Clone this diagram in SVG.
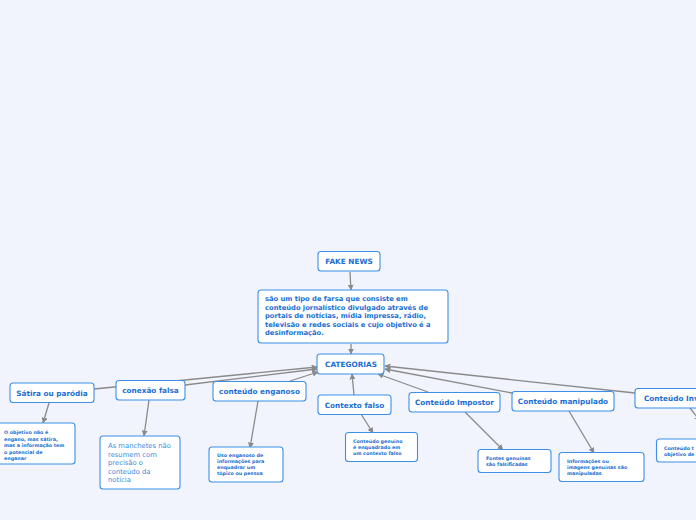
<svg xmlns="http://www.w3.org/2000/svg" width="696" height="520" viewBox="0 0 696 520">
<defs>
<marker id="ah" viewBox="0 0 10 10" refX="9" refY="5" markerWidth="6" markerHeight="6" orient="auto" markerUnits="userSpaceOnUse"><path d="M0,0 L10,5 L0,10 z" fill="#8a8a8a"/></marker>
<style>
.bx{fill:#fff;stroke:#3d8fe8;stroke-width:1.1}
.t{font-family:"DejaVu Sans","Liberation Sans",sans-serif;font-weight:bold;fill:#1a6ed2}
.m{font-size:7.3px;text-anchor:middle}
.s{font-size:4.8px}
.d{font-size:6.75px}
.r{font-family:"DejaVu Sans","Liberation Sans",sans-serif;font-size:6.8px;fill:#3a8ae0}
.c{stroke:#8a8a8a;stroke-width:1.3;fill:none;marker-end:url(#ah)}
</style>
</defs>
<rect width="696" height="520" fill="#f1f4fd"/>
<g id="connectors">
<line class="c" x1="350" y1="272" x2="351" y2="290"/>
<line class="c" x1="351" y1="344" x2="351" y2="354"/>
<line class="c" x1="94" y1="389" x2="317" y2="367"/>
<line class="c" x1="185" y1="385" x2="317" y2="369"/>
<line class="c" x1="290" y1="381" x2="318" y2="372"/>
<line class="c" x1="49" y1="403" x2="43" y2="423"/>
<line class="c" x1="149" y1="400" x2="144" y2="436"/>
<line class="c" x1="258" y1="401" x2="250" y2="448"/>
<line class="c" x1="354" y1="395" x2="352" y2="374"/>
<line class="c" x1="361" y1="414" x2="373" y2="433"/>
<line class="c" x1="428" y1="392" x2="378" y2="374"/>
<line class="c" x1="512" y1="393" x2="385" y2="369"/>
<line class="c" x1="635" y1="393" x2="385" y2="366"/>
<line class="c" x1="465" y1="412" x2="503" y2="450"/>
<line class="c" x1="569" y1="411" x2="594" y2="453"/>
<line class="c" x1="690" y1="408" x2="700" y2="421"/>
</g>
<g id="fake-news"><rect class="bx" x="318" y="251.5" width="62" height="19.5" rx="3"/><text class="t m" x="349" y="264">FAKE NEWS</text></g>
<g id="definicao"><rect class="bx" x="258" y="290" width="190" height="53" rx="3"/>
<text class="t d" x="265" y="301">são um tipo de farsa que consiste em</text>
<text class="t d" x="265" y="309.5">conteúdo jornalístico divulgado através de</text>
<text class="t d" x="265" y="318">portais de notícias, mídia impressa, rádio,</text>
<text class="t d" x="265" y="326.5">televisão e redes sociais e cujo objetivo é a</text>
<text class="t d" x="265" y="335">desinformação.</text></g>
<g id="categorias"><rect class="bx" x="317" y="354" width="67" height="20" rx="3"/><text class="t m" x="351" y="366.5">CATEGORIAS</text></g>
<g id="satira"><rect class="bx" x="10" y="383" width="84" height="19.5" rx="3"/><text class="t m" x="52" y="395.5">Sátira ou paródia</text></g>
<g id="conexao"><rect class="bx" x="116" y="380.5" width="69" height="19.5" rx="3"/><text class="t m" x="150.5" y="393">conexão falsa</text></g>
<g id="enganoso"><rect class="bx" x="213" y="381.5" width="93" height="19.5" rx="3"/><text class="t m" x="259.5" y="394">conteúdo enganoso</text></g>
<g id="contexto"><rect class="bx" x="318" y="395" width="73" height="19.5" rx="3"/><text class="t m" x="354.5" y="407.5">Contexto falso</text></g>
<g id="impostor"><rect class="bx" x="409" y="392.5" width="91" height="19.5" rx="3"/><text class="t m" x="454.5" y="405">Conteúdo Impostor</text></g>
<g id="manipulado"><rect class="bx" x="512" y="391.5" width="102" height="19.5" rx="3"/><text class="t m" x="563" y="404">Conteúdo manipulado</text></g>
<g id="inventado"><rect class="bx" x="635" y="388.5" width="80" height="19.5" rx="3"/><text class="t" style="font-size:7.3px" x="644" y="401">Conteúdo Inv</text></g>
<g id="satira-nota"><rect class="bx" x="-5" y="423" width="80" height="41" rx="3"/>
<text class="t s" x="4" y="434">O objetivo não é</text>
<text class="t s" x="4" y="440.5">engano, mas sátira,</text>
<text class="t s" x="4" y="447">mas a informação tem</text>
<text class="t s" x="4" y="453.5">o potencial de</text>
<text class="t s" x="4" y="460">enganar</text></g>
<g id="conexao-nota"><rect class="bx" x="100" y="436" width="80" height="53" rx="3"/>
<text class="r" x="108" y="448">As manchetes não</text>
<text class="r" x="108" y="456.5">resumem com</text>
<text class="r" x="108" y="465">precisão o</text>
<text class="r" x="108" y="473.5">conteúdo da</text>
<text class="r" x="108" y="482">notícia</text></g>
<g id="enganoso-nota"><rect class="bx" x="209" y="447" width="74" height="35" rx="3"/>
<text class="t s" x="217" y="457">Uso enganoso de</text>
<text class="t s" x="217" y="463">informações para</text>
<text class="t s" x="217" y="469">enquadrar um</text>
<text class="t s" x="217" y="475">tópico ou pessoa</text></g>
<g id="contexto-nota"><rect class="bx" x="345.5" y="432.5" width="72" height="29" rx="3"/>
<text class="t s" x="353" y="443">Conteúdo genuíno</text>
<text class="t s" x="353" y="449">é enquadrado em</text>
<text class="t s" x="353" y="455">um contexto falso</text></g>
<g id="impostor-nota"><rect class="bx" x="478" y="449.5" width="73" height="23" rx="3"/>
<text class="t s" x="486" y="460">Fontes genuínas</text>
<text class="t s" x="486" y="466">são falsificadas</text></g>
<g id="manipulado-nota"><rect class="bx" x="559" y="452.5" width="85" height="29" rx="3"/>
<text class="t s" x="567" y="463">Informações ou</text>
<text class="t s" x="567" y="469">imagens genuínas são</text>
<text class="t s" x="567" y="475">manipuladas</text></g>
<g id="inventado-nota"><rect class="bx" x="656.5" y="439" width="60" height="23" rx="3"/>
<text class="t s" x="664" y="450">Conteúdo t</text>
<text class="t s" x="664" y="456">objetivo de</text></g>
</svg>
